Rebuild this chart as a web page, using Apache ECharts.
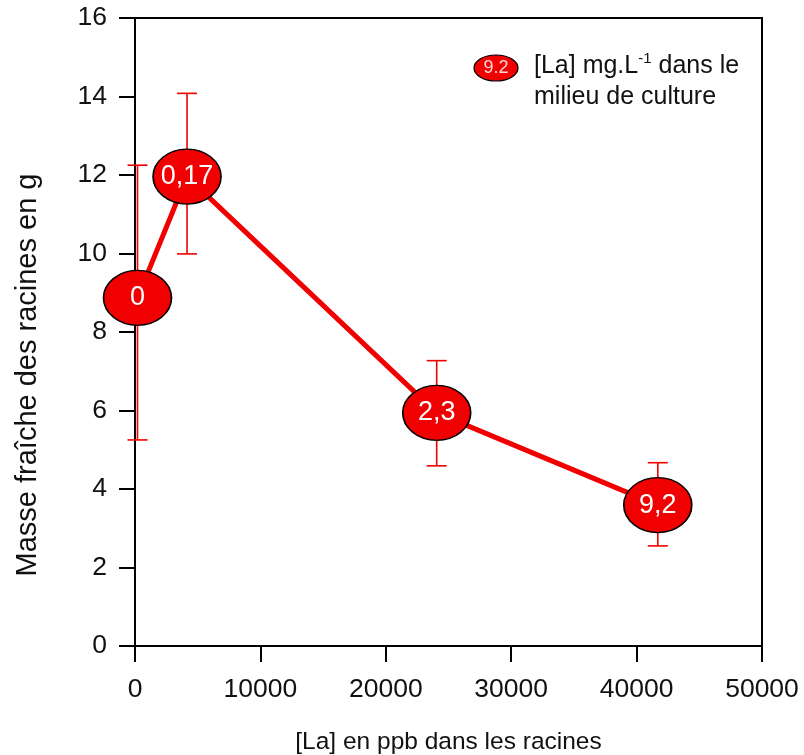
<!DOCTYPE html>
<html><head><meta charset="utf-8">
<script src="https://cdn.jsdelivr.net/npm/echarts@6/dist/echarts.min.js"></script>
<style>html,body{margin:0;padding:0;background:#fff}#c{width:804px;height:755px}</style>
</head><body><div id="c"></div>
<script>
// Data
const xValues = [200, 4150, 24060, 41690];
const yValues = [8.87, 11.96, 5.94, 3.59];
const errLow = [5.25, 9.99, 4.59, 2.55];
const errHigh = [12.25, 14.08, 7.27, 4.67];
const pointLabels = ['0', '0,17', '2,3', '9,2'];
const xTicks = [0, 10000, 20000, 30000, 40000, 50000];
const yTicks = [0, 2, 4, 6, 8, 10, 12, 14, 16];
const xTitle = '[La] en ppb dans les racines';
const yTitle = 'Masse fraîche des racines en g';
const legendSample = '9.2';

const FONT = '"Liberation Sans", Arial, sans-serif';
const RED = '#f00000';

const chart = echarts.init(document.getElementById('c'), null, {renderer: 'canvas'});

const lineData = xValues.map((x, i) => ({value: [x, yValues[i]], name: pointLabels[i]}));
const errData = xValues.map((x, i) => [x, errLow[i], errHigh[i]]);

const option = {
  backgroundColor: '#fff',
  animation: false,
  grid: {left: 135, top: 18, right: 42, bottom: 109, outerBoundsMode: 'none', containLabel: false,
    show: true, borderColor: '#000', borderWidth: 2, backgroundColor: 'transparent'},
  xAxis: {
    type: 'value', min: xTicks[0], max: xTicks[xTicks.length - 1], interval: xTicks[1] - xTicks[0],
    name: xTitle, nameLocation: 'middle', nameGap: 84,
    nameTextStyle: {fontFamily: FONT, fontSize: 24.5, color: '#111'},
    axisLine: {show: true, lineStyle: {color: '#000', width: 2}},
    axisTick: {show: true, length: 16, lineStyle: {color: '#000', width: 2}},
    axisLabel: {fontFamily: FONT, fontSize: 26.5, color: '#111', margin: 30, formatter: v => String(v)},
    splitLine: {show: false}
  },
  yAxis: {
    type: 'value', min: yTicks[0], max: yTicks[yTicks.length - 1], interval: yTicks[1] - yTicks[0],
    name: yTitle, nameLocation: 'middle', nameGap: 93, nameRotate: 90,
    nameTextStyle: {fontFamily: FONT, fontSize: 29, color: '#111', padding: [0, 86, 0, 0]},
    axisLine: {show: true, lineStyle: {color: '#000', width: 2}},
    axisTick: {show: true, length: 16, lineStyle: {color: '#000', width: 2}},
    axisLabel: {fontFamily: FONT, fontSize: 26.5, color: '#111', margin: 28},
    splitLine: {show: false}
  },
  series: [
    {
      type: 'custom',
      z: 1,
      data: errData,
      renderItem: function (params, api) {
        const x = api.value(0);
        const lo = api.coord([x, api.value(1)]);
        const hi = api.coord([x, api.value(2)]);
        const cw = 10;
        const st = {stroke: RED, lineWidth: 1.6};
        return {
          type: 'group',
          children: [
            {type: 'line', shape: {x1: lo[0], y1: lo[1], x2: hi[0], y2: hi[1]}, style: st},
            {type: 'line', shape: {x1: lo[0] - cw, y1: lo[1], x2: lo[0] + cw, y2: lo[1]}, style: st},
            {type: 'line', shape: {x1: hi[0] - cw, y1: hi[1], x2: hi[0] + cw, y2: hi[1]}, style: st}
          ]
        };
      }
    },
    {
      type: 'line',
      z: 3,
      data: lineData,
      lineStyle: {color: RED, width: 5},
      symbol: 'path://M0,1A1,1,0,1,1,2,1A1,1,0,1,1,0,1Z',
      symbolSize: [68, 55],
      showAllSymbol: true,
      itemStyle: {color: RED, borderColor: '#000', borderWidth: 1.5},
      label: {
        show: true, position: 'inside',
        formatter: p => p.name,
        fontFamily: FONT, fontSize: 27, color: '#fff'
      },
      emphasis: {disabled: true}
    }
  ],
  graphic: [
    {type: 'ellipse', shape: {cx: 496, cy: 68, rx: 22, ry: 13}, style: {fill: RED, stroke: '#000', lineWidth: 1.2}, z: 10},
    {type: 'text', x: 496, y: 68, z: 11, style: {text: legendSample, fontFamily: FONT, fontSize: 18, fill: '#ffd8d8', align: 'center', verticalAlign: 'middle'}},
    {type: 'text', x: 534, y: 51, z: 11, style: {
      text: '[La] mg.L{sup|-1} dans le\nmilieu de culture',
      fontFamily: FONT, fontSize: 25, fill: '#111', lineHeight: 31,
      rich: {sup: {fontFamily: FONT, fontSize: 15, verticalAlign: 'top', fill: '#111', lineHeight: 31}}
    }}
  ]
};
chart.setOption(option);
</script>
</body></html>
